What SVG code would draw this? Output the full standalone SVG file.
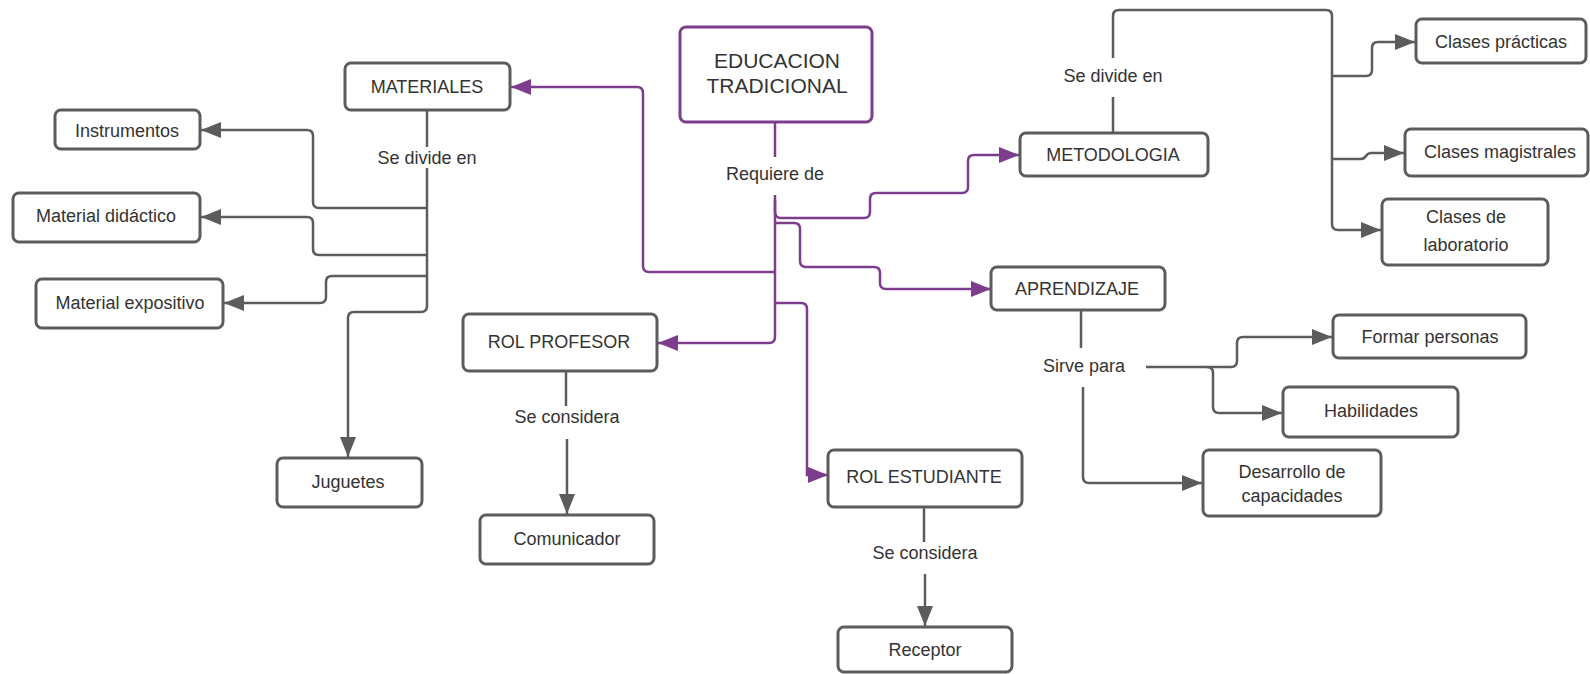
<svg xmlns="http://www.w3.org/2000/svg" width="1590" height="674" viewBox="0 0 1590 674">
<style>
.n rect{fill:#fff;stroke:#5c5c5c;stroke-width:3}
.n text,.lbl{font-family:"Liberation Sans",Arial,sans-serif;font-size:18px;fill:#333;text-anchor:middle;dominant-baseline:central}
.g{fill:none;stroke:#5c5c5c;stroke-width:2.5}
.p{fill:none;stroke:#7d3c8c;stroke-width:2.5}
</style>
<defs>
<marker id="ag" viewBox="0 0 20 16" refX="20" refY="8" markerWidth="20" markerHeight="16" markerUnits="userSpaceOnUse" orient="auto"><path d="M0,0 L20,8 L0,16 z" fill="#5c5c5c"/></marker>
<marker id="ap" viewBox="0 0 20 16" refX="20" refY="8" markerWidth="20" markerHeight="16" markerUnits="userSpaceOnUse" orient="auto"><path d="M0,0 L20,8 L0,16 z" fill="#7d3c8c"/></marker>
</defs>
<rect width="1590" height="674" fill="#fff"/>
<g id="connectors">
<path class="p" d="M775,122 V157"/>
<path class="p" d="M775,195 V337 Q775,343 769,343 H658" marker-end="url(#ap)"/>
<path class="p" d="M775,200 V212 Q775,218 781,218 H864 Q870,218 870,212 V199 Q870,193 876,193 H962 Q968,193 968,187 V161 Q968,155 974,155 H1019" marker-end="url(#ap)"/>
<path class="p" d="M775,223 H794 Q800,223 800,229 V261 Q800,267 806,267 H874 Q880,267 880,273 V283 Q880,289 886,289 H991" marker-end="url(#ap)"/>
<path class="p" d="M775,272 H649 Q643,272 643,266 V93 Q643,87 637,87 H511" marker-end="url(#ap)"/>
<path class="p" d="M775,303 H801 Q807,303 807,309 V475 L828,475" marker-end="url(#ap)"/>
<path class="g" d="M427,110 V147"/>
<path class="g" d="M427,168 V306 Q427,312 421,312 H354 Q348,312 348,318 V457" marker-end="url(#ag)"/>
<path class="g" d="M427,208 H319 Q313,208 313,202 V136 Q313,130 307,130 H201" marker-end="url(#ag)"/>
<path class="g" d="M427,255 H319 Q313,255 313,249 V223 Q313,217 307,217 H201" marker-end="url(#ag)"/>
<path class="g" d="M427,276 H332 Q326,276 326,282 V297 Q326,303 320,303 H224" marker-end="url(#ag)"/>
<path class="g" d="M566,371 V406"/>
<path class="g" d="M567,439 V514" marker-end="url(#ag)"/>
<path class="g" d="M924,507 V542"/>
<path class="g" d="M925,574 V626" marker-end="url(#ag)"/>
<path class="g" d="M1113,133 V97"/>
<path class="g" d="M1113,58 V16 Q1113,10 1119,10 H1326 Q1332,10 1332,16 V224 Q1332,230 1338,230 H1381" marker-end="url(#ag)"/>
<path class="g" d="M1332,76 H1366 Q1372,76 1372,70 V48 Q1372,42 1378,42 H1415" marker-end="url(#ag)"/>
<path class="g" d="M1332,159 H1361 Q1364,159 1366,156 Q1368,153 1371,153 H1404" marker-end="url(#ag)"/>
<path class="g" d="M1081,310 V348"/>
<path class="g" d="M1146,367 H1231 Q1237,367 1237,361 V343 Q1237,337 1243,337 H1332" marker-end="url(#ag)"/>
<path class="g" d="M1207,367 Q1213,367 1213,373 V407 Q1213,413 1219,413 H1282" marker-end="url(#ag)"/>
<path class="g" d="M1083,387 V477 Q1083,483 1089,483 H1202" marker-end="url(#ag)"/>
</g>
<g id="labels">
<text class="lbl" x="775" y="174">Requiere de</text>
<text class="lbl" x="427" y="158">Se divide en</text>
<text class="lbl" x="567" y="417">Se considera</text>
<text class="lbl" x="925" y="553">Se considera</text>
<text class="lbl" x="1113" y="76">Se divide en</text>
<text class="lbl" x="1084" y="366">Sirve para</text>
</g>
<g id="n-educacion" class="n"><rect x="680" y="27" width="192" height="95" rx="6" style="stroke:#7d3c8c"/><text x="777" y="60" style="font-size:21px">EDUCACION</text><text x="777" y="85" style="font-size:21px">TRADICIONAL</text></g>
<g id="n-materiales" class="n"><rect x="345" y="63" width="165" height="47" rx="6"/><text x="427" y="87">MATERIALES</text></g>
<g id="n-instrumentos" class="n"><rect x="55" y="110" width="145" height="39" rx="6"/><text x="127" y="131">Instrumentos</text></g>
<g id="n-didactico" class="n"><rect x="13" y="193" width="187" height="49" rx="6"/><text x="106" y="216">Material didáctico</text></g>
<g id="n-expositivo" class="n"><rect x="36" y="279" width="187" height="49" rx="6"/><text x="130" y="303">Material expositivo</text></g>
<g id="n-juguetes" class="n"><rect x="277" y="458" width="145" height="49" rx="6"/><text x="348" y="482">Juguetes</text></g>
<g id="n-rolprofesor" class="n"><rect x="463" y="314" width="194" height="57" rx="6"/><text x="559" y="342">ROL PROFESOR</text></g>
<g id="n-comunicador" class="n"><rect x="480" y="515" width="174" height="49" rx="6"/><text x="567" y="539">Comunicador</text></g>
<g id="n-rolestudiante" class="n"><rect x="828" y="450" width="194" height="57" rx="6"/><text x="924" y="477">ROL ESTUDIANTE</text></g>
<g id="n-receptor" class="n"><rect x="838" y="627" width="174" height="45" rx="6"/><text x="925" y="650">Receptor</text></g>
<g id="n-metodologia" class="n"><rect x="1020" y="133" width="188" height="43" rx="6"/><text x="1113" y="155">METODOLOGIA</text></g>
<g id="n-aprendizaje" class="n"><rect x="991" y="267" width="174" height="43" rx="6"/><text x="1077" y="289">APRENDIZAJE</text></g>
<g id="n-practicas" class="n"><rect x="1416" y="19" width="170" height="44" rx="6"/><text x="1501" y="42">Clases prácticas</text></g>
<g id="n-magistrales" class="n"><rect x="1405" y="129" width="183" height="47" rx="6"/><text x="1500" y="152">Clases magistrales</text></g>
<g id="n-laboratorio" class="n"><rect x="1382" y="199" width="166" height="66" rx="6"/><text x="1466" y="217">Clases de</text><text x="1466" y="245">laboratorio</text></g>
<g id="n-formar" class="n"><rect x="1333" y="315" width="193" height="43" rx="6"/><text x="1430" y="337">Formar personas</text></g>
<g id="n-habilidades" class="n"><rect x="1283" y="387" width="175" height="50" rx="6"/><text x="1371" y="411">Habilidades</text></g>
<g id="n-desarrollo" class="n"><rect x="1203" y="450" width="178" height="66" rx="6"/><text x="1292" y="472">Desarrollo de</text><text x="1292" y="496">capacidades</text></g>
</svg>
